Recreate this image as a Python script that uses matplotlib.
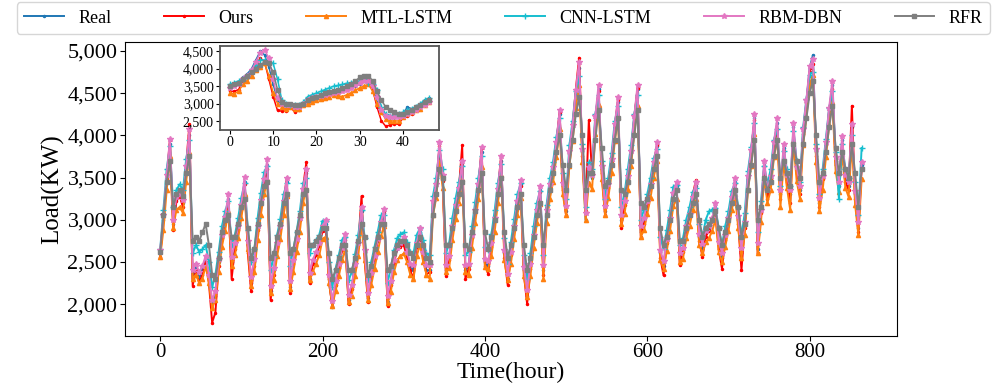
import matplotlib
matplotlib.use("Agg")
import matplotlib.pyplot as plt
from matplotlib.ticker import StrMethodFormatter

plt.rcParams['font.family'] = ['Liberation Serif', 'DejaVu Serif']

# main series, one value every 4 hours
hours = list(range(0, 865, 4))

real = [2600, 3000, 3500, 3900, 2950, 3250, 3300, 3200, 3600, 4000,
        2300, 2450, 2300, 2400, 2550, 2300, 1950, 2100, 2500, 2800,
        3000, 3250, 2500, 2700, 2900, 3150, 3450, 2700, 2250, 2500,
        2900, 3200, 3450, 3650, 2150, 2400, 2700, 2900, 3200, 3450,
        2200, 2500, 2750, 3000, 3350, 3550, 2300, 2500, 2600, 2700,
        2900, 2950, 2300, 1970, 2250, 2450, 2650, 2780, 2050, 2200,
        2450, 2700, 3100, 2600, 2070, 2350, 2550, 2750, 2950, 3080,
        2030, 2250, 2500, 2650, 2700, 2750, 2600, 2450, 2400, 2700,
        2850, 2600, 2400, 2400, 3200, 3400, 3850, 3500, 2400, 2550,
        2900, 3150, 3350, 3650, 2400, 2450, 2800, 3100, 3400, 3800,
        2500, 2450, 2700, 3000, 3350, 3700, 2600, 2300, 2600, 2900,
        3200, 3420, 2400, 2100, 2450, 2800, 3100, 3350, 2400, 3100,
        3400, 3600, 3900, 4250, 3400, 3100, 3800, 4100, 4500, 4800,
        3800, 3000, 3600, 3500, 4200, 4550, 3600, 3100, 3400, 3700,
        4100, 4400, 3000, 3200, 3500, 3800, 4200, 4550, 2850, 3000,
        3200, 3400, 3650, 3870, 2600, 2450, 2750, 3000, 3300, 3400,
        2550, 2650, 2900, 3050, 3250, 3400, 2800, 2650, 2850, 2900,
        3000, 3150, 2700, 2550, 2800, 3000, 3250, 3450, 3000, 2600,
        2950, 3500, 3800, 4200, 2650, 3100, 3650, 3300, 3500, 3900,
        4150, 3300, 3850, 3500, 3300, 4100, 3600, 3350, 4050, 4400,
        4800, 4950, 3800, 3200, 3500, 3900, 4300, 4600, 3700, 3400,
        3950, 3500, 3400, 4100, 3300, 2900, 3650]

ours = [2560, 3020, 3480, 3950, 2880, 3220, 3280, 3150, 3650, 4130,
        2220, 2400, 2250, 2350, 2500, 2250, 1780, 1900, 2450, 2780,
        2980, 3200, 2300, 2650, 2880, 3120, 3420, 2600, 2150, 2450,
        2880, 3180, 3460, 3600, 2050, 2350, 2680, 2900, 3220, 3500,
        2130, 2480, 2740, 3000, 3380, 3680, 2250, 2480, 2580, 2690,
        2870, 2900, 2250, 1980, 2230, 2430, 2640, 2760, 2000, 2180,
        2440, 2720, 3280, 2500, 2020, 2330, 2540, 2760, 2980, 3100,
        1980, 2230, 2490, 2660, 2680, 2700, 2560, 2400, 2300, 2680,
        2800, 2580, 2350, 2380, 3220, 3420, 3870, 3460, 2330, 2520,
        2880, 3150, 3380, 3880, 2300, 2420, 2780, 3090, 3420, 3850,
        2450, 2360, 2680, 2990, 3360, 3760, 2550, 2230, 2580, 2880,
        3190, 3400, 2350, 2000, 2420, 2780, 3080, 3330, 2350, 3150,
        3380, 3620, 3920, 4280, 3350, 3050, 3780, 4120, 4550, 4920,
        3750, 3100, 4180, 3550, 4180, 4520, 3550, 3050, 3380, 3700,
        4120, 4420, 2900, 3180, 3480, 3800, 4220, 4560, 2800, 2950,
        3180, 3420, 3680, 3880, 2550, 2340, 2720, 2980, 3310, 3420,
        2460, 2620, 2880, 3040, 3300, 3470, 2750, 2560, 2800, 2870,
        2980, 3120, 2650, 2420, 2760, 2980, 3230, 3420, 2950, 2400,
        2900, 3520, 3820, 4180, 2600, 3080, 3620, 3250, 3480, 3880,
        4080, 3250, 3820, 3450, 3200, 4050, 3550, 3300, 4020, 4380,
        4750, 4850, 3750, 3150, 3480, 3880, 4300, 4550, 3650, 3450,
        3900, 3450, 3350, 4350, 3250, 2850, 3600]

mtl_lstm = [2560, 2880, 3350, 3750, 2900, 3120, 3150, 3080, 3450, 3800,
            2300, 2350, 2250, 2300, 2450, 2250, 1950, 2050, 2380, 2680,
            2870, 3100, 2450, 2580, 2780, 3020, 3300, 2650, 2220, 2380,
            2760, 3060, 3300, 3480, 2130, 2290, 2570, 2770, 3060, 3280,
            2180, 2380, 2620, 2860, 3200, 3380, 2280, 2380, 2480, 2580,
            2770, 2800, 2250, 1980, 2150, 2330, 2520, 2650, 2030, 2100,
            2330, 2570, 2950, 2520, 2050, 2230, 2420, 2620, 2810, 2930,
            2010, 2140, 2380, 2520, 2570, 2600, 2500, 2350, 2300, 2570,
            2700, 2500, 2350, 2300, 3050, 3260, 3680, 3380, 2380, 2430,
            2760, 3010, 3200, 3480, 2380, 2340, 2670, 2960, 3250, 3630,
            2440, 2420, 2570, 2860, 3200, 3530, 2520, 2280, 2480, 2770,
            3060, 3260, 2330, 2080, 2330, 2670, 2960, 3190, 2300, 2960,
            3250, 3450, 3740, 4080, 3300, 3050, 3640, 3930, 4320, 4600,
            3680, 3000, 3440, 3360, 4020, 4360, 3480, 3060, 3260, 3550,
            3930, 4220, 2950, 3070, 3350, 3640, 4030, 4350, 2800, 2880,
            3070, 3260, 3500, 3700, 2520, 2420, 2630, 2870, 3160, 3250,
            2500, 2540, 2780, 2920, 3110, 3250, 2700, 2600, 2730, 2780,
            2870, 3000, 2620, 2500, 2680, 2870, 3110, 3300, 2900, 2550,
            2820, 3350, 3640, 4020, 2600, 2970, 3490, 3200, 3350, 3740,
            3970, 3150, 3680, 3380, 3120, 3930, 3460, 3250, 3880, 4220,
            4600, 4720, 3680, 3100, 3350, 3740, 4120, 4400, 3580, 3330,
            3780, 3380, 3270, 3900, 3180, 2820, 3480]

cnn_lstm = [2650, 3120, 3600, 3870, 3150, 3350, 3420, 3350, 3720, 3950,
            2600, 2700, 2620, 2650, 2700, 2500, 2200, 2350, 2620, 2920,
            3100, 3220, 2700, 2820, 3020, 3260, 3440, 2880, 2500, 2650,
            3020, 3320, 3560, 3640, 2400, 2560, 2820, 3010, 3300, 3430,
            2450, 2650, 2860, 3100, 3430, 3500, 2600, 2700, 2760, 2820,
            2990, 2980, 2500, 2200, 2420, 2580, 2760, 2800, 2280, 2380,
            2590, 2820, 3120, 2780, 2280, 2500, 2680, 2860, 3050, 3060,
            2250, 2420, 2640, 2780, 2830, 2850, 2740, 2620, 2600, 2820,
            2900, 2760, 2600, 2580, 3280, 3500, 3830, 3600, 2600, 2720,
            3020, 3260, 3450, 3640, 2580, 2620, 2920, 3210, 3500, 3760,
            2680, 2640, 2830, 3110, 3440, 3660, 2780, 2480, 2740, 3010,
            3300, 3430, 2580, 2300, 2600, 2920, 3200, 3340, 2580, 3180,
            3490, 3690, 3980, 4200, 3550, 3250, 3880, 4170, 4530, 4700,
            3900, 3150, 3680, 3600, 4250, 4480, 3700, 3250, 3500, 3790,
            4170, 4350, 3150, 3320, 3600, 3880, 4250, 4480, 3000, 3120,
            3300, 3500, 3730, 3840, 2800, 2650, 2880, 3110, 3390, 3410,
            2700, 2780, 3000, 3150, 3330, 3380, 2950, 2800, 3000, 3100,
            3120, 3140, 2900, 2700, 2920, 3100, 3340, 3430, 3150, 2800,
            3080, 3580, 3860, 4150, 2850, 3220, 3640, 3420, 3600, 3950,
            4080, 3400, 3820, 3600, 3400, 4050, 3700, 3450, 4100, 4430,
            4720, 4750, 3900, 3300, 3600, 3960, 4320, 4520, 3800, 3250,
            3900, 3600, 3500, 4000, 3450, 3050, 3850]

rbm_dbn = [2640, 3050, 3530, 3960, 3000, 3270, 3320, 3230, 3640, 4080,
           2400, 2480, 2380, 2450, 2570, 2350, 2050, 2150, 2530, 2820,
           3030, 3300, 2560, 2720, 2920, 3180, 3510, 2750, 2320, 2530,
           2920, 3230, 3480, 3720, 2220, 2430, 2720, 2920, 3220, 3500,
           2270, 2520, 2770, 3020, 3370, 3600, 2370, 2520, 2620, 2720,
           2920, 3000, 2340, 2040, 2270, 2470, 2670, 2830, 2110, 2230,
           2470, 2720, 3150, 2640, 2130, 2370, 2570, 2770, 2970, 3130,
           2100, 2270, 2520, 2670, 2720, 2800, 2620, 2480, 2460, 2720,
           2900, 2620, 2460, 2460, 3220, 3420, 3920, 3530, 2460, 2570,
           2920, 3170, 3380, 3700, 2460, 2480, 2820, 3120, 3420, 3860,
           2540, 2510, 2720, 3020, 3370, 3750, 2640, 2360, 2620, 2920,
           3220, 3470, 2440, 2170, 2470, 2820, 3120, 3400, 2460, 3120,
           3420, 3620, 3920, 4300, 3440, 3160, 3820, 4120, 4540, 4870,
           3840, 3080, 3620, 3530, 4230, 4600, 3640, 3160, 3420, 3720,
           4130, 4460, 3060, 3220, 3520, 3820, 4230, 4600, 2920, 3020,
           3220, 3420, 3680, 3920, 2640, 2510, 2770, 3020, 3320, 3450,
           2610, 2670, 2920, 3070, 3270, 3450, 2830, 2710, 2870, 2920,
           3020, 3200, 2740, 2610, 2820, 3020, 3270, 3500, 3040, 2660,
           2970, 3520, 3830, 4250, 2720, 3120, 3700, 3350, 3520, 3920,
           4200, 3350, 3900, 3530, 3350, 4150, 3630, 3400, 4070, 4420,
           4820, 4900, 3840, 3260, 3520, 3920, 4330, 4650, 3740, 3450,
           3990, 3530, 3450, 4140, 3340, 2970, 3680]

rfr = [2620, 3050, 3450, 3700, 3150, 3300, 3350, 3280, 3550, 3750,
       2750, 2800, 2750, 2850, 2950, 2700, 2350, 2300, 2550, 2850,
       3000, 3050, 2800, 2800, 2950, 3150, 3250, 2900, 2550, 2650,
       2950, 3200, 3400, 3450, 2550, 2600, 2800, 2950, 3200, 3300,
       2600, 2650, 2850, 3050, 3300, 3350, 2700, 2700, 2750, 2800,
       2900, 2900, 2600, 2300, 2400, 2550, 2700, 2700, 2400, 2400,
       2550, 2750, 2950, 2800, 2350, 2450, 2650, 2800, 2950, 2950,
       2400, 2450, 2600, 2700, 2750, 2750, 2700, 2600, 2550, 2700,
       2800, 2700, 2550, 2500, 3050, 3300, 3600, 3500, 2700, 2700,
       2900, 3100, 3300, 3450, 2700, 2650, 2850, 3100, 3350, 3550,
       2850, 2650, 2800, 3000, 3300, 3500, 2850, 2550, 2700, 2900,
       3150, 3300, 2700, 2400, 2550, 2800, 3050, 3200, 2700, 3050,
       3350, 3550, 3800, 4000, 3650, 3350, 3650, 3950, 4250, 4450,
       4000, 3350, 3550, 3550, 3950, 4300, 3850, 3400, 3450, 3650,
       3950, 4200, 3350, 3300, 3450, 3700, 4000, 4300, 3200, 3150,
       3250, 3400, 3600, 3750, 2900, 2700, 2800, 3000, 3250, 3350,
       2750, 2750, 2900, 3050, 3200, 3300, 3000, 2800, 2900, 2950,
       3000, 3100, 2900, 2700, 2850, 3000, 3200, 3350, 3150, 2800,
       2950, 3350, 3650, 3950, 3000, 3150, 3500, 3350, 3450, 3750,
       3950, 3500, 3700, 3550, 3400, 3900, 3700, 3500, 3900, 4200,
       4500, 4650, 4000, 3450, 3550, 3800, 4100, 4350, 3850, 3550,
       3800, 3600, 3500, 3900, 3550, 3150, 3600]

# inset: 47 hourly points
inset_hours = list(range(47))
inset_real = [3500, 3500, 3550, 3750, 3850, 4000, 4250, 4500, 4400, 4050,
              3550, 3100, 2950, 2950, 2950, 2900, 2900, 3000, 3100, 3150,
              3200, 3250, 3300, 3320, 3350, 3380, 3400, 3450, 3450, 3500,
              3550, 3650, 3600, 3450, 3050, 2750, 2650, 2600, 2600, 2600,
              2700, 2900, 2850, 2900, 2950, 3100, 3150]
inset_ours = [3350, 3350, 3400, 3650, 3750, 3900, 4100, 4300, 4200, 3700,
              3200, 2800, 2780, 2780, 2900, 2750, 2800, 2950, 3050, 3100,
              3150, 3180, 3200, 3230, 3270, 3300, 3350, 3400, 3450, 3550,
              3650, 3700, 3700, 3400, 2900, 2500, 2350, 2380, 2420, 2400,
              2600, 2650, 2700, 2800, 2900, 3000, 3050]
inset_mtl = [3300, 3280, 3350, 3550, 3650, 3800, 3950, 4050, 4150, 3800,
             3300, 3000, 2900, 2850, 2900, 2850, 2850, 2950, 3000, 3050,
             3100, 3120, 3150, 3200, 3250, 3220, 3200, 3250, 3300, 3380,
             3450, 3500, 3550, 3350, 3000, 2750, 2550, 2500, 2500, 2500,
             2600, 2700, 2750, 2800, 2850, 2950, 3050]
inset_cnn = [3550, 3600, 3650, 3700, 3800, 3950, 4100, 4250, 4250, 4200,
             4150, 3700, 3100, 3000, 2950, 2950, 2950, 3050, 3200, 3250,
             3300, 3350, 3400, 3450, 3500, 3520, 3550, 3580, 3600, 3620,
             3650, 3700, 3600, 3550, 3400, 2900, 2700, 2650, 2650, 2700,
             2750, 2800, 2850, 2900, 3000, 3100, 3150]
inset_rbm = [3450, 3500, 3550, 3700, 3800, 3950, 4200, 4450, 4550, 4300,
             3700, 3150, 3000, 2950, 2950, 2900, 2900, 3000, 3100, 3150,
             3200, 3230, 3250, 3270, 3300, 3320, 3350, 3400, 3450, 3520,
             3600, 3650, 3650, 3500, 3200, 2800, 2650, 2600, 2600, 2600,
             2650, 2700, 2750, 2800, 2900, 2950, 3050]
inset_rfr = [3500, 3550, 3600, 3700, 3800, 3900, 4000, 4100, 4200, 4150,
             3900, 3400, 3050, 3000, 3000, 2950, 2950, 3000, 3100, 3150,
             3200, 3250, 3300, 3320, 3350, 3400, 3450, 3500, 3550, 3650,
             3750, 3800, 3800, 3650, 3350, 3100, 2900, 2800, 2750, 2700,
             2700, 2750, 2800, 2900, 2950, 3050, 3100]

labels = ["Real", "Ours", "MTL-LSTM", "CNN-LSTM", "RBM-DBN", "RFR"]
colors = ["#1f77b4", "red", "#ff7f0e", "#17becf", "#e377c2", "#7f7f7f"]
markers = [".", ".", "^", "+", "*", "s"]
msizes = [3, 3, 3, 4, 4, 3]
main_data = [real, ours, mtl_lstm, cnn_lstm, rbm_dbn, rfr]
inset_data = [inset_real, inset_ours, inset_mtl, inset_cnn, inset_rbm, inset_rfr]

fig = plt.figure(figsize=(9.93, 3.84), dpi=100)
ax = fig.add_axes([0.126, 0.125, 0.777, 0.766])

handles = []
for ys, c, m, ms, lab in zip(main_data, colors, markers, msizes, labels):
    h, = ax.plot(hours, ys, color=c, marker=m, markersize=ms, linewidth=1.4, label=lab)
    handles.append(h)

ax.set_xticks([0, 200, 400, 600, 800])
ax.set_yticks([2000, 2500, 3000, 3500, 4000, 4500, 5000])
ax.yaxis.set_major_formatter(StrMethodFormatter('{x:,.0f}'))
ax.tick_params(axis="y", labelsize=16, pad=2)
ax.tick_params(axis="x", labelsize=15, pad=1.5)
ax.set_xlabel("Time(hour)", fontsize=17, labelpad=0)
ax.set_ylabel("Load(KW)", fontsize=18, labelpad=2)

# inset
ins = fig.add_axes([0.2215, 0.6615, 0.2205, 0.2195])
for ys, c, m, ms in zip(inset_data, colors, markers, msizes):
    ins.plot(inset_hours, ys, color=c, marker=m, markersize=ms, linewidth=1.1)
ins.set_xticks([0, 10, 20, 30, 40])
ins.set_yticks([2500, 3000, 3500, 4000, 4500])
ins.yaxis.set_major_formatter(StrMethodFormatter('{x:,.0f}'))
ins.tick_params(labelsize=10, length=3, pad=1.5)
for s in ins.spines.values():
    s.set_color("#555555")
    s.set_linewidth(1.3)

fig.legend(handles, labels, loc="lower left", ncol=6, mode="expand",
           bbox_to_anchor=(0.017, 0.912, 0.98, 0.075), fontsize=13,
           borderaxespad=0, handlelength=2.2, frameon=True, fancybox=True)

fig.savefig("out.png", dpi=100)
